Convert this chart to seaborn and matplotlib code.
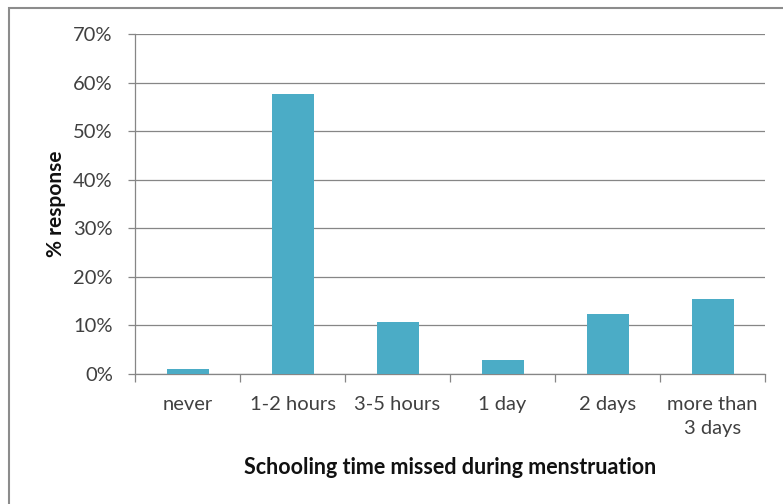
import matplotlib
matplotlib.use("Agg")
import matplotlib.pyplot as plt
import seaborn as sns
import pandas as pd
from matplotlib.patches import Rectangle
from matplotlib.ticker import FuncFormatter, FixedLocator

categories = ["never", "1-2 hours", "3-5 hours", "1 day", "2 days", "more than\n3 days"]
values = [1.0, 57.6, 10.7, 2.8, 12.4, 15.4]
y_ticks = [0, 10, 20, 30, 40, 50, 60, 70]

sns.set_theme(style="white")
plt.rcParams["font.family"] = ["Lato", "DejaVu Sans"]

df = pd.DataFrame({"cat": categories, "val": values})

fig = plt.figure(figsize=(7.83, 5.04), dpi=100)
ax = fig.add_axes([135/783, 1-374/504, 630/783, 340/504])

sns.barplot(data=df, x="cat", y="val", color="#4BACC6", width=0.4, ax=ax,
            saturation=1, edgecolor="none", zorder=3)

grid_c = "#868686"
txt_c = "#404040"
ax.set_ylim(0, 70)
ax.set_xlim(-0.5, 5.5)
ax.set_yticks(y_ticks)
ax.yaxis.set_major_formatter(FuncFormatter(lambda v, p: f"{int(v)}%"))
ax.grid(axis="y", color=grid_c, linewidth=0.9, zorder=0)
ax.set_axisbelow(True)
for s in ["top", "right"]:
    ax.spines[s].set_visible(False)
for s in ["left", "bottom"]:
    ax.spines[s].set_color(grid_c)
    ax.spines[s].set_linewidth(0.9)

ax.set_xticks(range(len(categories)))
ax.set_xticklabels(categories, linespacing=1.5)
ax.tick_params(axis="y", which="major", length=5, color=grid_c, width=0.9,
               labelsize=14.5, labelcolor=txt_c, pad=11, left=True)
ax.tick_params(axis="x", which="major", length=0, labelsize=14.5,
               labelcolor=txt_c, pad=16)
ax.xaxis.set_minor_locator(FixedLocator([i - 0.5 for i in range(7)]))
ax.tick_params(axis="x", which="minor", length=6, color=grid_c, width=0.9, bottom=True)

ax.set_xlabel("Schooling time missed during menstruation", fontsize=15.5,
              fontweight="bold", color="#111111", labelpad=14)
ax.set_ylabel("% response", fontsize=15, fontweight="bold", color="#111111",
              labelpad=5)

fig.patches.append(Rectangle((9/783, -0.1), 1.2, 1 - 8/504 + 0.1,
                             transform=fig.transFigure, fill=False,
                             edgecolor="#8c8c8c", linewidth=1.5))

fig.savefig("out.png", dpi=100)
